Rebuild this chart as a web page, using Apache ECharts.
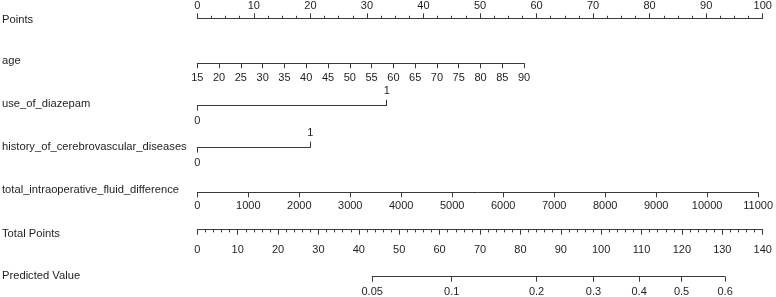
<!DOCTYPE html>
<html>
<head>
<meta charset="utf-8">
<script src="https://cdn.jsdelivr.net/npm/echarts@6/dist/echarts.min.js"></script>
<style>
html,body{margin:0;padding:0;background:#fff;}
#chart{width:776px;height:297px;}
</style>
</head>
<body>
<div id="chart"></div>
<script>
// ---- data ----
const rowLabels = ['Points', 'age', 'use_of_diazepam', 'history_of_cerebrovascular_diseases',
  'total_intraoperative_fluid_difference', 'Total Points', 'Predicted Value'];
const pointsRange = [0, 100];
const ageRange = [15, 90];
const agePoints = [0, 57.8];
const diazepamValues = [0, 1];
const diazepamPoints = [0, 33.5];
const historyValues = [0, 1];
const historyPoints = [0, 20.0];
const fluidRange = [0, 11000];
const fluidPoints = [0, 100];
const totalPointsRange = [0, 140];
const predictedValues = ['0.05', '0.1', '0.2', '0.3', '0.4', '0.5', '0.6'];
const predictedTotalPoints = [43.3, 63.0, 84.0, 98.1, 109.4, 119.9, 130.7];

// ---- layout ----
const X0 = 197.3, X1 = 762.7;
const pxPerPoint = (X1 - X0) / (pointsRange[1] - pointsRange[0]);
const pxPerTotal = (X1 - X0) / (totalPointsRange[1] - totalPointsRange[0]);
const lineY = [18.3, 63.3, 105.7, 147.6, 192.3, 229.7, 276.7];
const labelY = [20, 61, 104, 147, 190, 234, 276];
const LINE = '#3a3a3a', TEXT = '#1e1e1e';
const FONT = 'Liberation Sans, Arial, sans-serif';
const TICKFONT = '"Liberation Sans Narrow", "Arial Narrow", "Liberation Sans", Arial, sans-serif';

function gridFromPoints(row, p0, p1, ppx) {
  return { left: X0 + p0 * ppx, width: (p1 - p0) * ppx, top: lineY[row], height: 0, containLabel: false };
}
const grids = [
  gridFromPoints(0, pointsRange[0], pointsRange[1], pxPerPoint),
  gridFromPoints(1, agePoints[0], agePoints[1], pxPerPoint),
  gridFromPoints(2, diazepamPoints[0], diazepamPoints[1], pxPerPoint),
  gridFromPoints(3, historyPoints[0], historyPoints[1], pxPerPoint),
  gridFromPoints(4, fluidPoints[0], fluidPoints[1], pxPerPoint),
  gridFromPoints(5, totalPointsRange[0], totalPointsRange[1], pxPerTotal),
  gridFromPoints(6, predictedTotalPoints[0], predictedTotalPoints[predictedTotalPoints.length - 1], pxPerTotal)
];

const baseAxis = {
  type: 'value',
  splitLine: { show: false },
  axisLine: { show: true, onZero: false, lineStyle: { color: LINE, width: 1 } },
  axisTick: { show: true, length: 5, lineStyle: { color: LINE, width: 1 } },
  axisLabel: { color: TEXT, fontSize: 11, fontFamily: TICKFONT, margin: 8, showMinLabel: true, showMaxLabel: true,
               formatter: function (v) { return String(v); } }
};
function ax(extra) {
  const o = JSON.parse(JSON.stringify(baseAxis));
  o.axisLabel.formatter = baseAxis.axisLabel.formatter;
  for (const k in extra) {
    if (typeof extra[k] === 'object' && !Array.isArray(extra[k]) && o[k]) Object.assign(o[k], extra[k]);
    else o[k] = extra[k];
  }
  return o;
}

const xAxes = [
  ax({ gridIndex: 0, position: 'top', min: pointsRange[0], max: pointsRange[1], interval: 10,
       minorTick: { show: true, splitNumber: 4, length: 2.5, lineStyle: { color: LINE } },
       axisLabel: { margin: 7 } }),
  ax({ gridIndex: 1, position: 'bottom', min: ageRange[0], max: ageRange[1], interval: 5, axisLabel: { margin: 9 } }),
  ax({ gridIndex: 2, position: 'bottom', min: diazepamValues[0], max: diazepamValues[1],
       axisTick: { customValues: [diazepamValues[0]] }, axisLabel: { customValues: [diazepamValues[0]], margin: 10 } }),
  ax({ gridIndex: 2, position: 'top', min: diazepamValues[0], max: diazepamValues[1],
       axisLine: { show: false },
       axisTick: { customValues: [diazepamValues[1]], length: 6 }, axisLabel: { customValues: [diazepamValues[1]], margin: 9 } }),
  ax({ gridIndex: 3, position: 'bottom', min: historyValues[0], max: historyValues[1],
       axisTick: { customValues: [historyValues[0]] }, axisLabel: { customValues: [historyValues[0]], margin: 10 } }),
  ax({ gridIndex: 3, position: 'top', min: historyValues[0], max: historyValues[1],
       axisLine: { show: false },
       axisTick: { customValues: [historyValues[1]], length: 6 }, axisLabel: { customValues: [historyValues[1]], margin: 9 } }),
  ax({ gridIndex: 4, position: 'bottom', min: fluidRange[0], max: fluidRange[1], interval: 1000 }),
  ax({ gridIndex: 5, position: 'bottom', min: totalPointsRange[0], max: totalPointsRange[1], interval: 10,
       minorTick: { show: true, splitNumber: 5, length: 2.7, lineStyle: { color: LINE } },
       axisLabel: { margin: 15 } }),
  ax({ gridIndex: 6, position: 'bottom', min: predictedTotalPoints[0], max: predictedTotalPoints[predictedTotalPoints.length - 1],
       axisTick: { customValues: predictedTotalPoints },
       axisLabel: { customValues: predictedTotalPoints, margin: 10 } })
];
xAxes[8].axisLabel.formatter = function (v) {
  const i = predictedTotalPoints.findIndex(p => Math.abs(p - v) < 1e-6);
  return i >= 0 ? predictedValues[i] : '';
};

const yAxes = grids.map((g, i) => ({ type: 'value', gridIndex: i, show: false, min: 0, max: 1 }));

const graphics = rowLabels.map((t, i) => ({
  type: 'text', x: 2, y: labelY[i],
  style: { text: t, fill: TEXT, font: '11.2px ' + FONT, verticalAlign: 'middle', align: 'left' }
}));

const chart = echarts.init(document.getElementById('chart'), null, { renderer: 'canvas' });
chart.setOption({
  animation: false,
  backgroundColor: '#ffffff',
  grid: grids,
  xAxis: xAxes,
  yAxis: yAxes,
  graphic: graphics,
  series: []
});
</script>
</body>
</html>
